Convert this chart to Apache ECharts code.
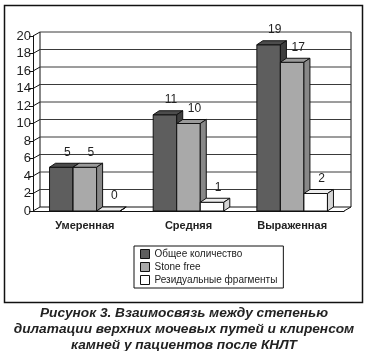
<!DOCTYPE html>
<html>
<head>
<meta charset="utf-8">
<script src="https://cdn.jsdelivr.net/npm/echarts@6/dist/echarts.min.js"></script>
<style>
html, body { margin: 0; padding: 0; background: #fff; }
#chart { width: 368px; height: 351px; }
</style>
</head>
<body>
<div id="chart"></div>
<script>
var categories = ['Умеренная', 'Средняя', 'Выраженная'];
var seriesNames = ['Общее количество', 'Stone free', 'Резидуальные фрагменты'];
var totalCount = [5, 11, 19];
var stoneFree = [5, 10, 17];
var residual = [0, 1, 2];
var yTicks = [0, 2, 4, 6, 8, 10, 12, 14, 16, 18, 20];
var caption = 'Рисунок 3. Взаимосвязь между степенью\nдилатации верхних мочевых путей и клиренсом\nкамней у пациентов после КНЛТ';

var font = 'Arial, "Liberation Sans", sans-serif';
// faces: front, top, side
var faces = [
  ['#5e5e5e', '#4c4c4c', '#3e3e3e'],
  ['#a9a9a9', '#9a9a9a', '#888888'],
  ['#ffffff', '#ececec', '#d6d6d6']
];
var WALL_DX = 7, WALL_DY = -4;
var BAR_DX = 6, BAR_DY = -4;

var chart = echarts.init(document.getElementById('chart'));

function wallItem(params, api) {
  var cs = params.coordSys;
  var t = api.value(1);
  var y = api.coord([0, t])[1];
  var xl = cs.x, xr = cs.x + cs.width;
  var kids = [];
  kids.push({type: 'line', shape: {x1: xl + WALL_DX, y1: y + WALL_DY, x2: xr + WALL_DX, y2: y + WALL_DY},
    style: {stroke: t === 0 ? '#111' : '#3a3a3a', lineWidth: 1}});
  kids.push({type: 'line', shape: {x1: xl, y1: y, x2: xl + WALL_DX, y2: y + WALL_DY},
    style: {stroke: '#111', lineWidth: 1}});
  if (t === 0) {
    kids.push({type: 'line', shape: {x1: xr, y1: y, x2: xr + WALL_DX, y2: y + WALL_DY},
      style: {stroke: '#111', lineWidth: 1}});
    kids.push({type: 'line', shape: {x1: xl + WALL_DX, y1: cs.y + WALL_DY, x2: xl + WALL_DX, y2: y + WALL_DY},
      style: {stroke: '#111', lineWidth: 1}});
    kids.push({type: 'line', shape: {x1: xr + WALL_DX, y1: cs.y + WALL_DY, x2: xr + WALL_DX, y2: y + WALL_DY},
      style: {stroke: '#111', lineWidth: 1}});
  }
  return {type: 'group', children: kids};
}

function barRenderer(k) {
  var f = faces[k];
  return function (params, api) {
    var c = api.value(0), v = api.value(1);
    var base = api.coord([c, 0]);
    var top = api.coord([c, v]);
    var band = api.size([1, 0])[0];
    var bw = band * 0.227;
    var x0 = base[0] - 1.5 * bw + k * bw, x1 = x0 + bw;
    var yb = base[1], yt = top[1];
    return {
      type: 'group',
      children: [
        {type: 'rect', shape: {x: x0, y: yt, width: bw, height: yb - yt},
          style: {fill: f[0], stroke: '#111', lineWidth: 1}},
        {type: 'polygon', shape: {points: [[x0, yt], [x0 + BAR_DX, yt + BAR_DY], [x1 + BAR_DX, yt + BAR_DY], [x1, yt]]},
          style: {fill: f[1], stroke: '#111', lineWidth: 1}},
        {type: 'polygon', shape: {points: [[x1, yt], [x1 + BAR_DX, yt + BAR_DY], [x1 + BAR_DX, yb + BAR_DY], [x1, yb]]},
          style: {fill: f[2], stroke: '#111', lineWidth: 1}},
        {type: 'text', style: {text: String(v), x: x0 + bw / 2 + 6, y: yt + BAR_DY - 5,
          align: 'center', verticalAlign: 'bottom', fontSize: 12, fontFamily: font, fill: '#222'}}
      ]
    };
  };
}

function toData(arr) {
  return arr.map(function (v, i) { return [i, v]; });
}

var values = [totalCount, stoneFree, residual];
var series = [{
  type: 'custom',
  name: 'wall',
  z: 1,
  silent: true,
  renderItem: wallItem,
  encode: {x: 0, y: 1},
  data: yTicks.map(function (t) { return [0, t]; })
}];
for (var k = 0; k < 3; k++) {
  series.push({
    type: 'custom',
    name: seriesNames[k],
    z: 2 + k,
    renderItem: barRenderer(k),
    encode: {x: 0, y: 1},
    itemStyle: {color: faces[k][0], borderColor: '#111', borderWidth: 1},
    data: toData(values[k])
  });
}

var option = {
  backgroundColor: '#fff',
  animation: false,
  title: {
    text: caption,
    left: 'center',
    top: 305,
    padding: 0,
    textStyle: {fontSize: 13.7, fontWeight: 'bold', fontStyle: 'italic', fontFamily: font, color: '#222', lineHeight: 16}
  },
  legend: {
    data: seriesNames,
    orient: 'vertical',
    left: 134,
    top: 246,
    icon: 'rect',
    itemWidth: 9,
    itemHeight: 9,
    itemGap: 3,
    padding: [3, 6, 3, 6],
    borderColor: '#111',
    borderWidth: 1,
    itemStyle: {borderColor: '#111', borderWidth: 1},
    textStyle: {fontSize: 10, fontFamily: font, color: '#222'}
  },
  grid: {left: 33, right: 24, top: 36, bottom: 140},
  xAxis: {
    type: 'category',
    data: categories,
    axisLine: {lineStyle: {color: '#111', width: 1}},
    axisTick: {length: 5, lineStyle: {color: '#111'}},
    axisLabel: {fontSize: 11, fontWeight: 'bold', fontFamily: font, color: '#222', margin: 9}
  },
  yAxis: {
    type: 'value',
    min: 0,
    max: 20,
    interval: 2,
    axisLine: {show: true, lineStyle: {color: '#111', width: 1}},
    axisTick: {show: true, length: 4, lineStyle: {color: '#111'}},
    axisLabel: {fontSize: 13, fontFamily: font, color: '#222', margin: 2},
    splitLine: {show: false}
  },
  graphic: [{
    type: 'rect',
    shape: {x: 4.5, y: 5.5, width: 358, height: 297},
    style: {fill: null, stroke: '#111', lineWidth: 1.5},
    z: 0
  }],
  series: series
};
chart.setOption(option);
</script>
</body>
</html>
